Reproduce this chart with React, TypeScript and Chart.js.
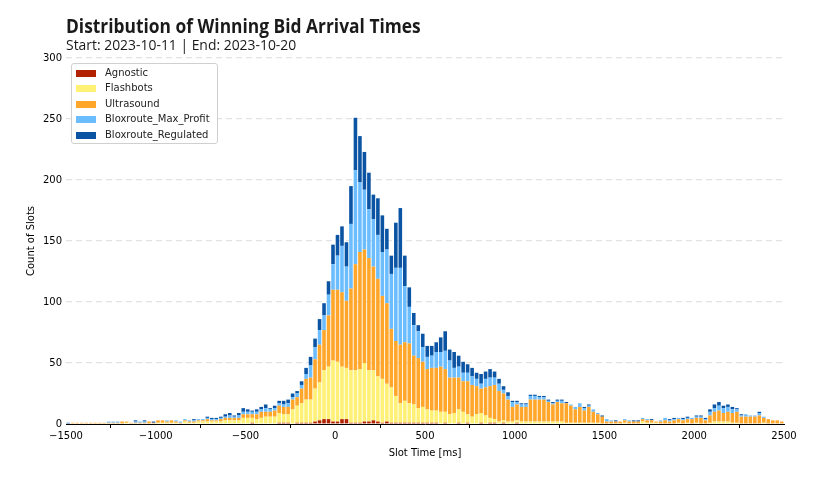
import { useEffect, useLayoutEffect, useRef, useState } from 'react';
import { Chart, registerables, type ChartConfiguration } from 'chart.js';

Chart.register(...registerables);

// 25 ms bins from -1500 to 2500
const BIN_START = -1500;
const BIN_WIDTH = 25;

const AGNOSTIC = [
  0, 0, 0, 0, 0, 0, 0, 0, 0, 0, 0, 0, 0, 0, 0, 0, 0, 0, 0, 0,
  0, 0, 0, 0, 0, 0, 0, 0, 0, 0, 0, 0, 0, 0, 0, 0, 0, 0, 0, 0,
  0, 1, 0, 0, 0, 0, 0, 1, 1, 1, 0, 1, 1, 1, 1, 2, 3, 4, 4, 2,
  2, 4, 4, 1, 1, 1, 2, 2, 3, 2, 1, 2, 1, 1, 1, 1, 1, 1, 1, 1,
  1, 1, 1, 0, 1, 0, 0, 1, 0, 1, 0, 0, 1, 0, 1, 1, 0, 1, 0, 0,
  1, 0, 0, 0, 0, 0, 0, 0, 0, 0, 0, 0, 0, 0, 0, 0, 0, 0, 0, 0,
  0, 0, 0, 0, 0, 0, 0, 0, 0, 0, 0, 0, 0, 0, 0, 0, 0, 0, 0, 0,
  0, 0, 0, 0, 0, 0, 0, 0, 0, 0, 0, 0, 0, 0, 0, 0, 0, 0, 0, 0,
];

const FLASHBOTS = [
  0, 0, 0, 0, 0, 0, 0, 0, 0, 0, 0, 0, 0, 1, 0, 0, 0, 0, 0, 0,
  1, 1, 1, 1, 1, 0, 2, 1, 1, 2, 2, 2, 2, 2, 2, 3, 3, 3, 3, 5,
  5, 4, 4, 5, 6, 6, 6, 8, 7, 7, 12, 14, 16, 19, 19, 27, 31, 40, 43, 50,
  49, 43, 42, 43, 43, 44, 48, 42, 41, 37, 36, 31, 29, 22, 16, 18, 16, 15, 12, 13,
  11, 10, 10, 10, 9, 8, 9, 11, 10, 7, 6, 8, 8, 7, 4, 3, 2, 2, 2, 2,
  2, 2, 2, 2, 2, 2, 2, 2, 2, 2, 2, 1, 1, 1, 1, 1, 1, 1, 1, 0,
  0, 0, 0, 0, 1, 0, 0, 0, 2, 1, 1, 1, 0, 0, 0, 0, 1, 0, 1, 0,
  1, 0, 0, 1, 2, 2, 2, 2, 1, 1, 0, 0, 0, 0, 0, 1, 0, 0, 0, 0,
];

const ULTRASOUND = [
  0, 1, 1, 1, 1, 1, 1, 1, 1, 1, 1, 1, 2, 1, 1, 1, 1, 1, 2, 1,
  2, 2, 1, 2, 1, 1, 1, 1, 1, 1, 1, 2, 1, 1, 2, 2, 2, 2, 2, 3,
  3, 3, 4, 5, 4, 4, 5, 6, 6, 6, 8, 7, 12, 17, 18, 24, 31, 33, 42, 58,
  59, 61, 55, 67, 87, 96, 93, 92, 85, 80, 68, 66, 48, 45, 48, 48, 49, 40, 41, 37,
  33, 35, 35, 37, 35, 30, 29, 26, 25, 27, 26, 23, 20, 23, 26, 28, 25, 22, 18, 12,
  13, 12, 12, 18, 18, 18, 18, 16, 14, 16, 15, 16, 14, 11, 13, 10, 13, 9, 7, 6,
  2, 2, 2, 2, 2, 2, 2, 2, 2, 2, 2, 1, 2, 3, 2, 3, 3, 3, 3, 4,
  4, 5, 3, 6, 8, 9, 7, 8, 8, 9, 6, 6, 6, 6, 7, 4, 4, 3, 3, 2,
];

const MAX_PROFIT = [
  0, 0, 0, 0, 0, 0, 0, 0, 0, 1, 1, 1, 0, 0, 0, 1, 1, 1, 0, 0,
  0, 0, 1, 0, 1, 1, 1, 1, 1, 1, 1, 1, 1, 1, 1, 1, 2, 1, 2, 2,
  2, 2, 2, 2, 3, 2, 2, 2, 2, 3, 2, 3, 3, 4, 10, 10, 12, 12, 17, 21,
  28, 38, 28, 53, 77, 57, 49, 40, 39, 36, 36, 44, 45, 60, 63, 46, 30, 25, 22, 12,
  10, 10, 13, 12, 15, 14, 8, 9, 7, 7, 7, 6, 4, 7, 7, 6, 6, 3, 3, 4,
  2, 2, 2, 3, 3, 2, 2, 1, 1, 1, 2, 0, 1, 2, 3, 2, 1, 2, 1, 0,
  2, 1, 0, 0, 1, 1, 0, 0, 1, 1, 0, 0, 1, 2, 1, 1, 1, 1, 1, 1,
  1, 1, 1, 3, 3, 4, 4, 4, 3, 2, 1, 2, 1, 1, 2, 1, 0, 0, 0, 0,
];

const REGULATED = [
  1, 0, 0, 0, 0, 0, 0, 0, 0, 0, 0, 0, 0, 0, 0, 1, 0, 1, 0, 1,
  0, 0, 0, 0, 0, 0, 0, 0, 1, 0, 0, 1, 1, 1, 1, 2, 2, 1, 2, 3,
  2, 1, 2, 2, 3, 1, 2, 2, 3, 3, 3, 2, 3, 5, 7, 7, 9, 10, 11, 16,
  17, 16, 20, 31, 43, 38, 31, 30, 20, 30, 30, 17, 15, 37, 49, 25, 16, 10, 5, 11,
  9, 8, 8, 12, 16, 9, 13, 9, 9, 7, 7, 5, 8, 6, 7, 5, 4, 3, 3, 1,
  1, 1, 1, 1, 1, 1, 1, 1, 1, 1, 1, 1, 0, 0, 0, 1, 1, 0, 0, 1,
  0, 0, 1, 0, 0, 0, 1, 1, 0, 0, 1, 0, 0, 0, 1, 1, 0, 1, 1, 0,
  1, 1, 1, 2, 3, 3, 2, 2, 2, 1, 1, 0, 0, 0, 1, 0, 0, 0, 0, 0,
];

const SERIES = [
  { label: 'Agnostic', data: AGNOSTIC, color: '#B22200' },
  { label: 'Flashbots', data: FLASHBOTS, color: '#FFF176' },
  { label: 'Ultrasound', data: ULTRASOUND, color: '#FFA62B' },
  { label: 'Bloxroute_Max_Profit', data: MAX_PROFIT, color: '#6CBDFF' },
  { label: 'Bloxroute_Regulated', data: REGULATED, color: '#0B54A4' },
];

const BIN_CENTERS = AGNOSTIC.map((_, i) => BIN_START + BIN_WIDTH * i + BIN_WIDTH / 2);

const TITLE = 'Distribution of Winning Bid Arrival Times';
const SUBTITLE = 'Start: 2023-10-11 | End: 2023-10-20';

const fmt = (v: number) => (v < 0 ? '\u2212' + Math.abs(v) : String(v));

/** Text squeezed horizontally to a target width (the original uses a condensed face). */
function FitText({ text, width, style }: { text: string; width: number; style: React.CSSProperties }) {
  const ref = useRef<HTMLSpanElement>(null);
  const [scale, setScale] = useState(1);
  useLayoutEffect(() => {
    const measure = () => {
      if (ref.current) setScale(width / ref.current.offsetWidth);
    };
    measure();
    document.fonts?.ready.then(measure);
  }, [text, width]);
  return (
    <span
      ref={ref}
      style={{
        ...style,
        display: 'inline-block',
        whiteSpace: 'nowrap',
        transform: `scaleX(${scale})`,
        transformOrigin: 'left top',
      }}
    >
      {text}
    </span>
  );
}

export default function App() {
  const canvasRef = useRef<HTMLCanvasElement>(null);

  useEffect(() => {
    if (!canvasRef.current) return;
    Chart.defaults.font.family = '"DejaVu Sans", sans-serif';
    Chart.defaults.font.size = 10;
    Chart.defaults.color = '#222';

    const config: ChartConfiguration<'bar'> = {
      type: 'bar',
      data: {
        labels: BIN_CENTERS,
        datasets: SERIES.map((s) => ({
          label: s.label,
          data: s.data,
          backgroundColor: s.color,
          borderWidth: 0,
          barPercentage: 0.8,
          categoryPercentage: 1,
        })),
      },
      options: {
        animation: false,
        responsive: true,
        maintainAspectRatio: false,
        layout: { padding: { left: 21, right: 41, top: 58, bottom: 24 } },
        plugins: {
          legend: { display: false },
          tooltip: { enabled: false },
        },
        scales: {
          x: {
            type: 'linear',
            stacked: true,
            offset: false,
            min: -1500,
            max: 2500,
            afterFit: (s) => { s.height = 39; },
            border: { display: true, color: '#000', width: 1 },
            grid: { drawOnChartArea: false, drawTicks: true, tickLength: 4, color: '#000' },
            ticks: { stepSize: 500, color: '#000', padding: 2, maxRotation: 0, callback: (v) => fmt(Number(v)) },
            title: { display: true, text: 'Slot Time [ms]', color: '#000' },
          },
          y: {
            stacked: true,
            min: 0,
            max: 300,
            afterFit: (s) => { s.width = 45; },
            border: { display: false, dash: [6, 4] },
            grid: {
              drawTicks: false,
              lineWidth: 1.2,
              color: (ctx) => (ctx.tick && ctx.tick.value === 0 ? 'rgba(0,0,0,0)' : '#e2e2e2'),
            },
            ticks: { stepSize: 50, color: '#000', padding: 4 },
            title: { display: true, text: 'Count of Slots', color: '#000' },
          },
        },
      },
    };

    const chart = new Chart(canvasRef.current, config);
    return () => chart.destroy();
  }, []);

  return (
    <div style={{ position: 'absolute', left: 0, top: 0, width: 825, height: 487, background: '#fff' }}>
      <canvas ref={canvasRef} />
      <div style={{ position: 'absolute', left: 66, top: 17, lineHeight: 1 }}>
        <FitText
          text={TITLE}
          width={355}
          style={{ fontFamily: '"Open Sans", sans-serif', fontWeight: 700, fontSize: 19, color: '#1a1a1a', lineHeight: 1 }}
        />
      </div>
      <div style={{ position: 'absolute', left: 66, top: 36.5, lineHeight: 1 }}>
        <FitText
          text={SUBTITLE}
          width={230}
          style={{ fontFamily: '"Open Sans", sans-serif', fontWeight: 400, fontSize: 14.4, color: '#1a1a1a', lineHeight: 1 }}
        />
      </div>
      <div
        style={{
          position: 'absolute',
          left: 71,
          top: 63,
          width: 145,
          height: 79,
          border: '1px solid #d0d0d0',
          borderRadius: 3,
          background: 'rgba(255,255,255,0.85)',
          fontFamily: '"DejaVu Sans", sans-serif',
          fontSize: 10,
          color: '#222',
        }}
      >
        {SERIES.map((s, i) => (
          <div key={s.label} style={{ position: 'absolute', left: 0, top: 3 + i * 15.6, height: 12, width: '100%' }}>
            <span style={{ position: 'absolute', left: 4, top: 2.5, width: 20, height: 7, background: s.color }} />
            <span style={{ position: 'absolute', left: 33, top: -0.5, lineHeight: '12px', whiteSpace: 'nowrap' }}>{s.label}</span>
          </div>
        ))}
      </div>
    </div>
  );
}
